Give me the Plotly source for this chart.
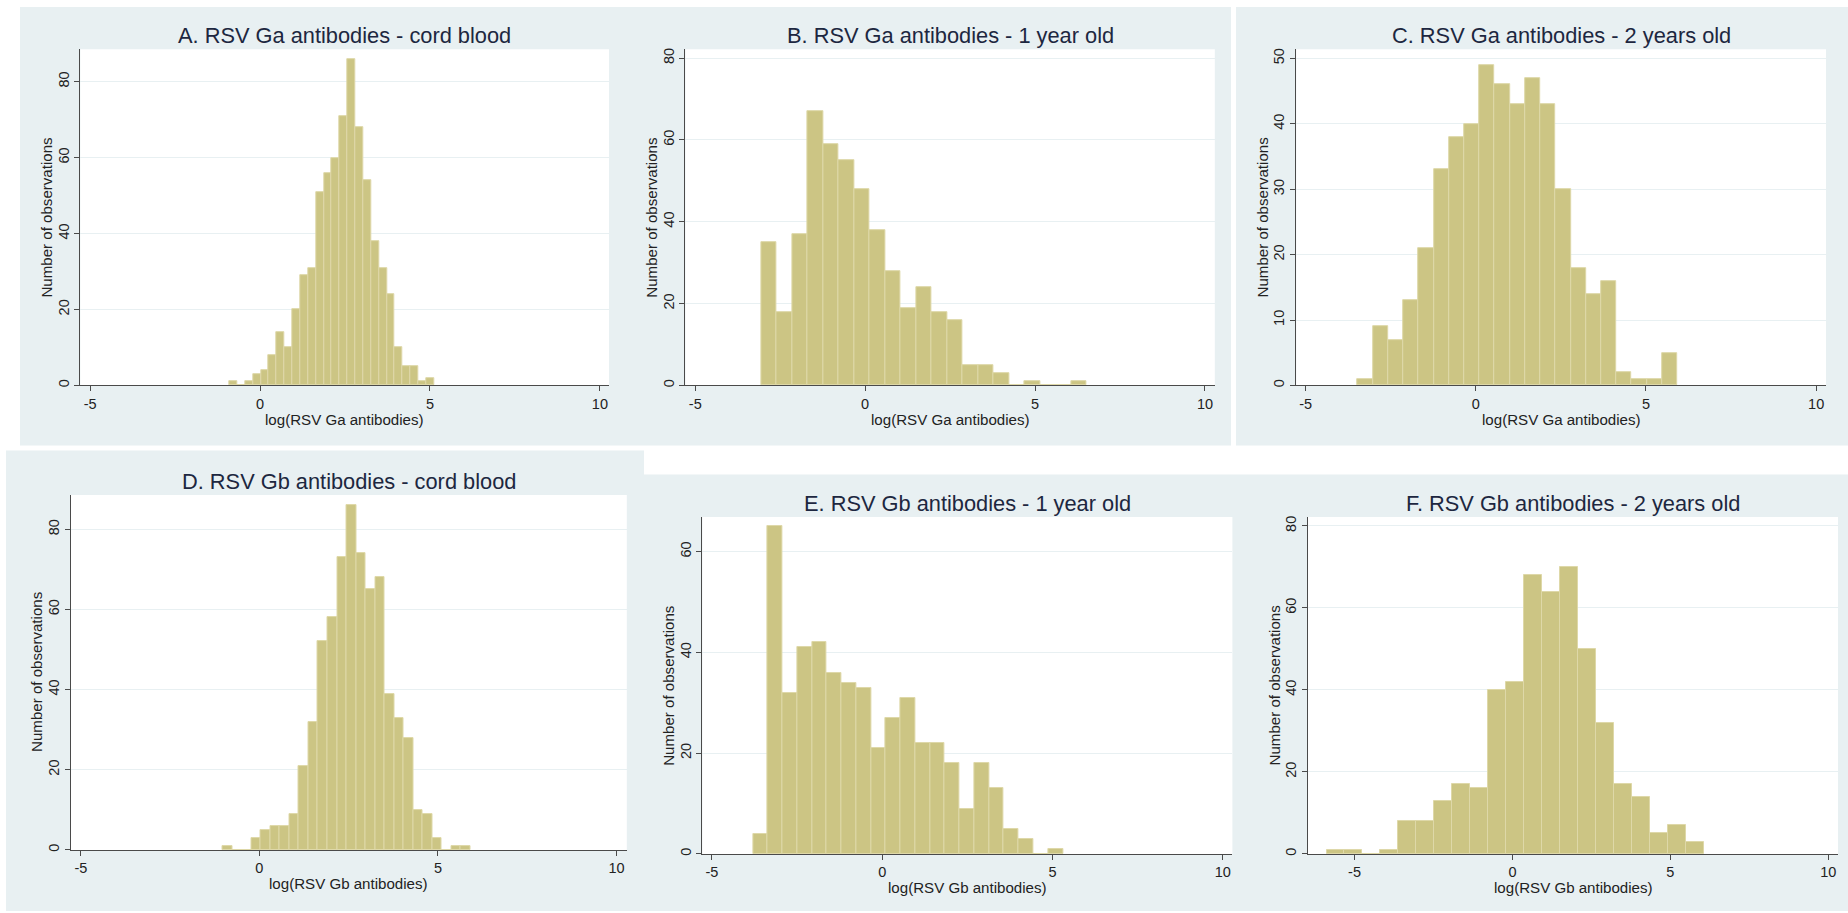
import plotly.graph_objects as go

# ---------------- data ----------------
titles = ["A. RSV Ga antibodies - cord blood",
          "B. RSV Ga antibodies - 1 year old",
          "C. RSV Ga antibodies - 2 years old",
          "D. RSV Gb antibodies - cord blood",
          "E. RSV Gb antibodies - 1 year old",
          "F. RSV Gb antibodies - 2 years old"]
x_titles = ["log(RSV Ga antibodies)"] * 3 + ["log(RSV Gb antibodies)"] * 3
y_title = "Number of observations"

counts_a = [1, 0, 1, 3, 4, 8, 14, 10, 20, 29, 31, 51, 56, 60, 71, 86, 68, 54, 38, 31, 24, 10, 5, 5, 1, 2]
counts_b = [35, 18, 37, 67, 59, 55, 48, 38, 28, 19, 24, 18, 16, 5, 5, 3, 0, 1, 0, 0, 1]
counts_c = [1, 9, 7, 13, 21, 33, 38, 40, 49, 46, 43, 47, 43, 30, 18, 14, 16, 2, 1, 1, 5]
counts_d = [1, 0, 0, 3, 5, 6, 6, 9, 21, 32, 52, 58, 73, 86, 74, 65, 68, 39, 33, 28, 10, 9, 3, 0, 1, 1]
counts_e = [4, 65, 32, 41, 42, 36, 34, 33, 21, 27, 31, 22, 22, 18, 9, 18, 13, 5, 3, 0, 1]
counts_f = [1, 1, 0, 1, 8, 8, 13, 17, 16, 40, 42, 68, 64, 70, 50, 32, 17, 14, 5, 7, 3]

bin_start = [-0.904, -3.057, -3.471, -1.029, -3.798, -5.887]
bin_width = [0.2318, 0.4556, 0.4473, 0.2670, 0.4334, 0.5686]

x_ticks = [-5, 0, 5, 10]
y_ticks_a = [0, 20, 40, 60, 80]
y_ticks_b = [0, 20, 40, 60, 80]
y_ticks_c = [0, 10, 20, 30, 40, 50]
y_ticks_d = [0, 20, 40, 60, 80]
y_ticks_e = [0, 20, 40, 60]
y_ticks_f = [0, 20, 40, 60, 80]

all_counts = [counts_a, counts_b, counts_c, counts_d, counts_e, counts_f]
all_yticks = [y_ticks_a, y_ticks_b, y_ticks_c, y_ticks_d, y_ticks_e, y_ticks_f]

# ---------------- layout geometry (pixels) ----------------
W, H = 1848, 913
boxes = [(80.3, 48.3, 609.0, 385.7),
         (685.4, 48.3, 1214.8, 385.7),
         (1296.2, 48.3, 1826.0, 385.7),
         (70.5, 495.7, 626.8, 851.7),
         (702.4, 517.7, 1232.4, 855.7),
         (1308.0, 517.7, 1838.0, 855.7)]
x_ranges = [(-5.29, 10.268), (-5.29, 10.29), (-5.278, 10.29),
            (-5.29, 10.29), (-5.281, 10.28), (-6.474, 10.31)]
y_tops = [88.58, 82.19, 51.42, 88.54, 66.86, 82.19]

BG = "#E8F0F2"
BAR = "#CCC584"
BAR_LINE = "#DED8A8"
AXIS = "#4a4a4a"
TXT = "#222222"
TITLE = "#1d2740"
FONT = "Liberation Sans, Arial, sans-serif"


def px(x):
    return x / W


def py(y):
    return 1 - y / H


fig = go.Figure()
shapes = []
annotations = []

# background regions
for (x0, y0, x1, y1) in [(20, 6, 1231, 446), (1236, 6, 1848, 446),
                         (6, 451, 644, 913), (644, 475, 1848, 913)]:
    shapes.append(dict(type="rect", xref="paper", yref="paper",
                       x0=px(x0), x1=px(x1), y0=py(y1), y1=py(y0),
                       fillcolor=BG, line=dict(width=0), layer="below"))

for i in range(6):
    sfx = "" if i == 0 else str(i + 1)
    x0, y0, x1, y1 = boxes[i]
    counts = all_counts[i]
    centers = [bin_start[i] + (k + 0.5) * bin_width[i] for k in range(len(counts))]
    fig.add_trace(go.Bar(x=centers, y=counts, width=bin_width[i],
                         marker=dict(color=BAR, line=dict(color=BAR_LINE, width=1)),
                         xaxis="x" + sfx, yaxis="y" + sfx, showlegend=False))
    # white plot area
    shapes.append(dict(type="rect", xref="paper", yref="paper",
                       x0=px(x0), x1=px(x1), y0=py(y1), y1=py(y0),
                       fillcolor="white", line=dict(width=0), layer="below"))
    fig.layout["xaxis" + sfx] = dict(
        domain=[px(x0), px(x1)], range=list(x_ranges[i]), anchor="y" + sfx,
        tickvals=x_ticks, ticktext=[str(v) for v in x_ticks],
        showgrid=False, zeroline=False, showline=True, linecolor=AXIS, linewidth=1,
        ticks="outside", ticklen=5, tickcolor=AXIS, tickwidth=1,
        tickfont=dict(size=14.5, color=TXT, family=FONT), fixedrange=True)
    fig.layout["yaxis" + sfx] = dict(
        domain=[py(y1), py(y0)], range=[0, y_tops[i]], anchor="x" + sfx,
        tickvals=all_yticks[i], ticktext=[str(v) for v in all_yticks[i]],
        tickangle=-90,
        showgrid=True, gridcolor=BG, gridwidth=1,
        zeroline=False, showline=True, linecolor=AXIS, linewidth=1,
        ticks="outside", ticklen=5, tickcolor=AXIS, tickwidth=1,
        tickfont=dict(size=14.5, color=TXT, family=FONT), fixedrange=True)
    cx = (x0 + x1) / 2
    cy = (y0 + y1) / 2
    annotations.append(dict(text=titles[i], xref="paper", yref="paper",
                            x=px(cx), y=py(y0 - 14), xanchor="center", yanchor="middle",
                            showarrow=False, font=dict(size=21.8, color=TITLE, family=FONT)))
    annotations.append(dict(text=x_titles[i], xref="paper", yref="paper",
                            x=px(cx), y=py(y1 + 34), xanchor="center", yanchor="middle",
                            showarrow=False, font=dict(size=15.1, color=TXT, family=FONT)))
    annotations.append(dict(text=y_title, xref="paper", yref="paper",
                            x=px(x0 - 34), y=py(cy), xanchor="center", yanchor="middle",
                            textangle=-90,
                            showarrow=False, font=dict(size=15.1, color=TXT, family=FONT)))

fig.update_layout(width=W, height=H, margin=dict(l=0, r=0, t=0, b=0, pad=0),
                  paper_bgcolor="white", plot_bgcolor="rgba(0,0,0,0)",
                  shapes=shapes, annotations=annotations,
                  font=dict(family=FONT, color=TXT), bargap=0)

fig.write_html("out.html", config={"displayModeBar": False},
               post_script="document.body.style.margin='0';document.body.style.overflow='hidden';")
